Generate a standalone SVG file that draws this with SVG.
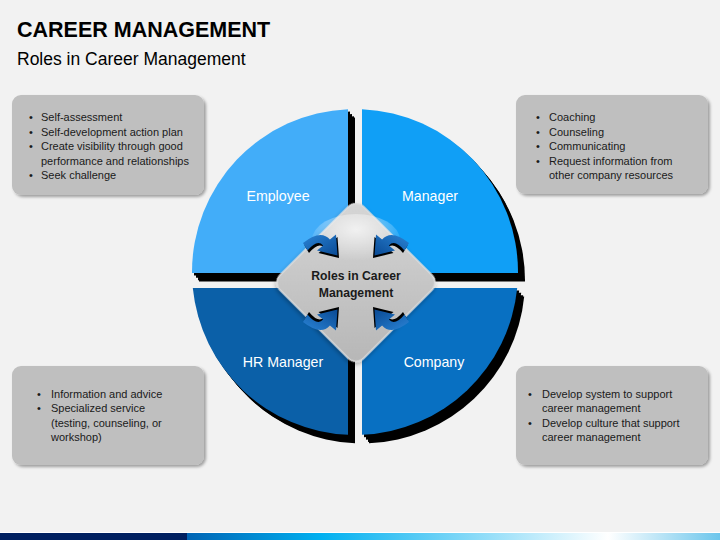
<svg xmlns="http://www.w3.org/2000/svg" width="720" height="540" viewBox="0 0 720 540">
<defs>
<style>
.title{font-family:"Liberation Sans",Arial,sans-serif;font-weight:bold;font-size:21.5px;fill:#000}
.sub{font-family:"Liberation Sans",Arial,sans-serif;font-size:17.5px;fill:#000}
.box{fill:#bfbfbf;filter:url(#sh)}
.bt{font-family:"Liberation Sans",Arial,sans-serif;font-size:11px;fill:#1a1a1a}
.ql{font-family:"Liberation Sans",Arial,sans-serif;font-size:14.2px;fill:#fff;text-anchor:middle}
.ct{font-family:"Liberation Sans",Arial,sans-serif;font-size:12.2px;font-weight:bold;fill:#1a1a1a;text-anchor:middle}
.ext{fill:#000}
.arr{fill:url(#ag)}
.arrs{fill:#000}
</style>
<filter id="sh" x="-10%" y="-10%" width="125%" height="130%"><feDropShadow dx="2" dy="2" stdDeviation="1.5" flood-color="#000" flood-opacity="0.35"/></filter>
<filter id="dsh" x="-20%" y="-20%" width="140%" height="140%"><feDropShadow dx="1" dy="2" stdDeviation="2" flood-color="#000" flood-opacity="0.3"/></filter>
<linearGradient id="dg" x1="0" y1="0" x2="1" y2="1"><stop offset="0" stop-color="#d6d6d6"/><stop offset="0.5" stop-color="#c6c6c6"/><stop offset="1" stop-color="#b6b6b6"/></linearGradient>
<radialGradient id="hl" cx="0.5" cy="0.3" r="0.6"><stop offset="0" stop-color="#fff" stop-opacity="0.7"/><stop offset="1" stop-color="#fff" stop-opacity="0"/></radialGradient>
<linearGradient id="ag" x1="0" y1="0" x2="1" y2="1"><stop offset="0" stop-color="#2a84d6"/><stop offset="1" stop-color="#0a4a94"/></linearGradient>
<linearGradient id="bar" x1="0" y1="0" x2="1" y2="0"><stop offset="0" stop-color="#0064b4"/><stop offset="0.25" stop-color="#00b0f0"/><stop offset="0.79" stop-color="#ffffff"/><stop offset="1" stop-color="#6cc6ec"/></linearGradient>
<path id="qEmp" d="M348,273 L192,273 A163,163 0 0 1 348,109.15 Z"/>
<path id="qMan" d="M362,273 L362,109.15 A163,163 0 0 1 518,273 Z"/>
<path id="qHR" d="M348,288 L348,434.85 A163,163 0 0 1 192.8,288 Z"/>
<path id="qCom" d="M362,288 L517.2,288 A163,163 0 0 1 362,434.85 Z"/>
<path id="arw" d="M303,243 Q320.8,229 329.9,239.6 L336,234.4 L337.5,255.4 L317,250.6 L323.1,245.4 Q317.3,238.6 307.5,250.5 Z"/>
</defs>
<rect width="720" height="540" fill="#f2f2f2"/>
<text class="title" x="17" y="37">CAREER MANAGEMENT</text>
<text class="sub" x="17" y="65">Roles in Career Management</text>

<g id="box-employee">
<rect class="box" x="12" y="95" width="192" height="100" rx="9"/>
<g class="bt">
<text x="29" y="121">•</text><text x="41" y="121">Self-assessment</text>
<text x="29" y="135.5">•</text><text x="41" y="135.5">Self-development action plan</text>
<text x="29" y="150">•</text><text x="41" y="150">Create visibility through good</text>
<text x="41" y="164.5">performance and relationships</text>
<text x="29" y="179">•</text><text x="41" y="179">Seek challenge</text>
</g>
</g>
<g id="box-manager">
<rect class="box" x="516" y="95" width="192" height="99" rx="9"/>
<g class="bt">
<text x="536" y="121">•</text><text x="549" y="121">Coaching</text>
<text x="536" y="135.5">•</text><text x="549" y="135.5">Counseling</text>
<text x="536" y="150">•</text><text x="549" y="150">Communicating</text>
<text x="536" y="164.5">•</text><text x="549" y="164.5">Request information from</text>
<text x="549" y="179">other company resources</text>
</g>
</g>
<g id="box-hr">
<rect class="box" x="12" y="366" width="192" height="99" rx="9"/>
<g class="bt">
<text x="37" y="397.5">•</text><text x="51" y="397.5">Information and advice</text>
<text x="37" y="412">•</text><text x="51" y="412">Specialized service</text>
<text x="51" y="426.5">(testing, counseling, or</text>
<text x="51" y="441">workshop)</text>
</g>
</g>
<g id="box-company">
<rect class="box" x="516" y="366" width="192" height="99" rx="9"/>
<g class="bt">
<text x="528" y="397.5">•</text><text x="542" y="397.5">Develop system to support</text>
<text x="542" y="412">career management</text>
<text x="528" y="426.5">•</text><text x="542" y="426.5">Develop culture that support</text>
<text x="542" y="441">career management</text>
</g>
</g>

<g id="node-employee">
<use href="#qEmp" class="ext" transform="translate(2,2.4)"/>
<use href="#qEmp" class="ext" transform="translate(4,4.8)"/>
<use href="#qEmp" class="ext" transform="translate(6,7.2)"/>
<use href="#qEmp" class="ext" transform="translate(7,8.4)"/>
<use href="#qEmp" fill="#42adf9"/>
<text class="ql" x="278" y="201">Employee</text>
</g>
<g id="node-manager">
<use href="#qMan" class="ext" transform="translate(2,2.4)"/>
<use href="#qMan" class="ext" transform="translate(4,4.8)"/>
<use href="#qMan" class="ext" transform="translate(6,7.2)"/>
<use href="#qMan" class="ext" transform="translate(7,8.4)"/>
<use href="#qMan" fill="#109ff6"/>
<text class="ql" x="430" y="201">Manager</text>
</g>
<g id="node-hr">
<use href="#qHR" class="ext" transform="translate(2,2.4)"/>
<use href="#qHR" class="ext" transform="translate(4,4.8)"/>
<use href="#qHR" class="ext" transform="translate(6,7.2)"/>
<use href="#qHR" class="ext" transform="translate(7,8.4)"/>
<use href="#qHR" fill="#0b60a8"/>
<text class="ql" x="283" y="367">HR Manager</text>
</g>
<g id="node-company">
<use href="#qCom" class="ext" transform="translate(2,2.4)"/>
<use href="#qCom" class="ext" transform="translate(4,4.8)"/>
<use href="#qCom" class="ext" transform="translate(6,7.2)"/>
<use href="#qCom" class="ext" transform="translate(7,8.4)"/>
<use href="#qCom" fill="#0870c2"/>
<text class="ql" x="434" y="367">Company</text>
</g>

<g id="node-center">
<rect x="-59" y="-59" width="118" height="118" rx="11" transform="translate(356,282.5) rotate(45)" fill="url(#dg)" stroke="#dedede" stroke-width="1.5" filter="url(#dsh)"/>
<ellipse cx="356" cy="240" rx="44" ry="26" fill="url(#hl)"/>
<text class="ct" x="356" y="280">Roles in Career</text>
<text class="ct" x="356" y="297">Management</text>
</g>

<g id="connectors">
<g>
<use href="#arw" class="arrs" transform="translate(1.5,2.5)"/>
<use href="#arw" class="arr"/>
</g>
<g transform="translate(712,0) scale(-1,1)">
<use href="#arw" class="arrs" transform="translate(1.5,2.5)"/>
<use href="#arw" class="arr"/>
</g>
<g transform="translate(0,565) scale(1,-1)">
<use href="#arw" class="arrs" transform="translate(1.5,2.5)"/>
<use href="#arw" class="arr"/>
</g>
<g transform="translate(712,565) scale(-1,-1)">
<use href="#arw" class="arrs" transform="translate(1.5,2.5)"/>
<use href="#arw" class="arr"/>
</g>
</g>

<rect x="0" y="532" width="720" height="1" fill="#ffffff"/>
<rect x="0" y="533" width="187" height="7" fill="#002060"/>
<rect x="187" y="533" width="533" height="7" fill="url(#bar)"/>
</svg>
